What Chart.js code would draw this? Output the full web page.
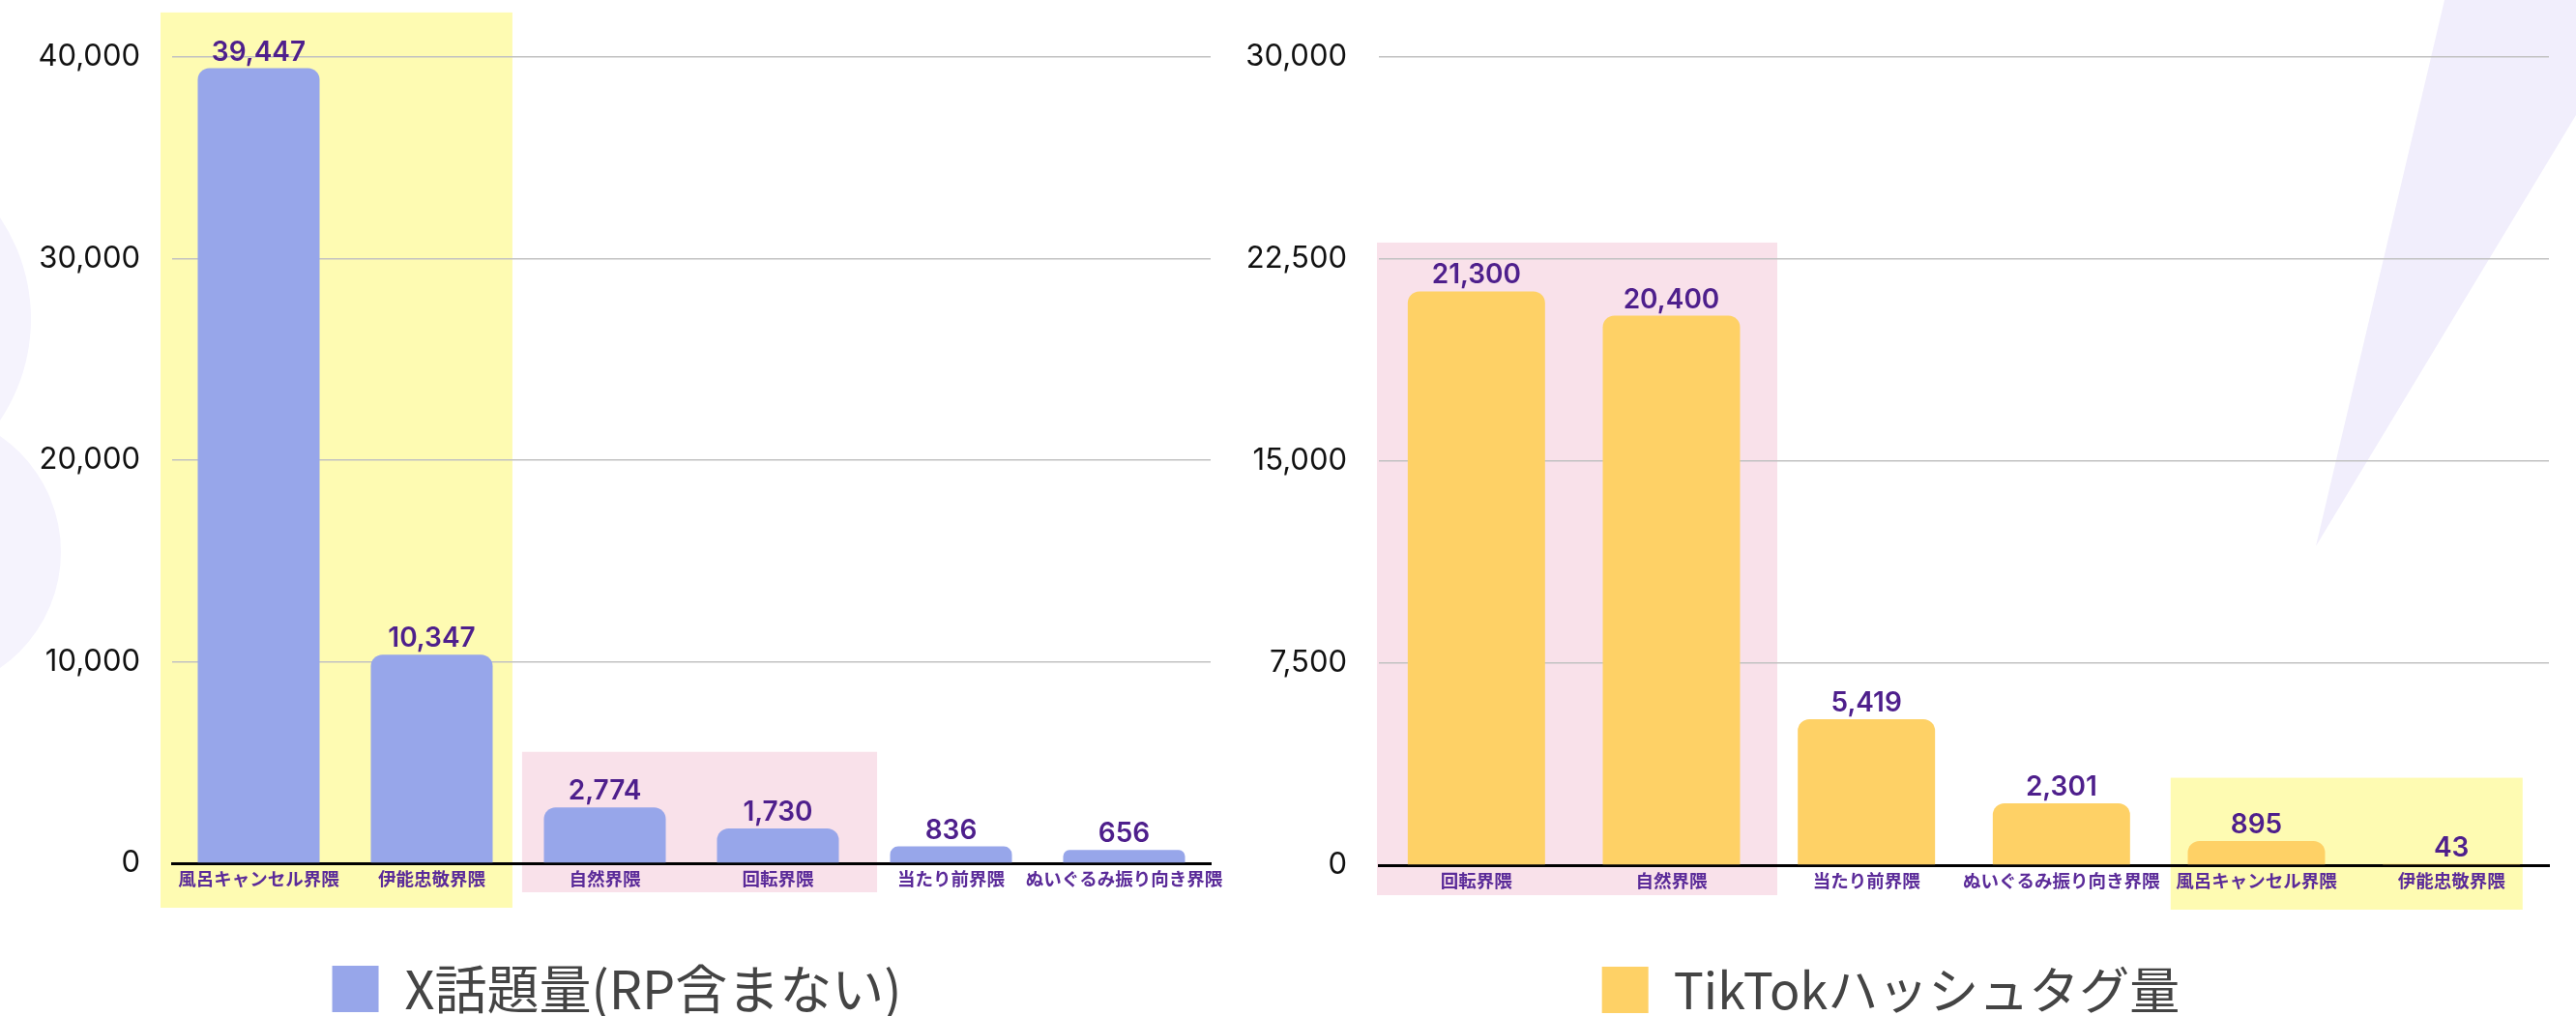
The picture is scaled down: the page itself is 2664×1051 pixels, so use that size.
<!DOCTYPE html>
<html lang="ja">
<head>
<meta charset="utf-8">
<title>界隈 話題量比較</title>
<script src="https://cdn.jsdelivr.net/npm/chart.js@4.4.1/dist/chart.umd.min.js"></script>
<style>
  html, body { margin: 0; padding: 0; background: #fff; }
  #stage { position: relative; width: 2664px; height: 1051px; overflow: hidden; }
  #deco { position: absolute; left: 0; top: 0; }
  #chart-x { position: absolute; left: 0; top: 0; }
  #chart-tt { position: absolute; left: 1247px; top: 0; }
</style>
</head>
<body>
<div id="stage">
  <svg id="deco" width="2664" height="1051">
    <circle cx="-156" cy="330" r="188" fill="#f5f3fd" />
    <circle cx="-83" cy="571" r="146" fill="#f5f3fd" />
    <polygon points="2528,0 2664,0 2664,119 2395,565" fill="#f1eefc" />
  </svg>
  <canvas id="chart-x" width="1272" height="1051"></canvas>
  <canvas id="chart-tt" width="1417" height="1051"></canvas>
</div>
<script>
// ---- data ----
const xLabel       = 'X話題量(RP含まない)';
const xCategories  = ['風呂キャンセル界隈', '伊能忠敬界隈', '自然界隈', '回転界隈', '当たり前界隈', 'ぬいぐるみ振り向き界隈'];
const xValues      = [39447, 10347, 2774, 1730, 836, 656];
const xAxisMax     = 40000;
const xAxisStep    = 10000;

const ttLabel      = 'TikTokハッシュタグ量';
const ttCategories = ['回転界隈', '自然界隈', '当たり前界隈', 'ぬいぐるみ振り向き界隈', '風呂キャンセル界隈', '伊能忠敬界隈'];
const ttValues     = [21300, 20400, 5419, 2301, 895, 43];
const ttAxisMax    = 30000;
const ttAxisStep   = 7500;

// ---- styles ----
const YELLOW_BG = '#fefbb2';
const PINK_BG   = '#f9e1ea';
const PURPLE    = '#4e1f8c';
const CAT_PURPLE = '#5b2b99';

// highlighted groups (category units) drawn behind the bars
const xHighlights = [
  { from: -0.567, to: 1.466, top: 42212, below: 46, color: YELLOW_BG },
  { from: 1.522,  to: 3.573, top: 5529,  below: 30, color: PINK_BG },
];
const ttHighlights = [
  { from: -0.51, to: 1.543, top: 23113, below: 31, color: PINK_BG },
  { from: 3.56,  to: 5.365, top: 3245,  below: 46, color: YELLOW_BG },
];

const highlightPlugin = {
  id: 'highlight',
  beforeDraw(chart, args, opts) {
    const { ctx, scales: { x, y } } = chart;
    ctx.save();
    (opts.boxes || []).forEach(b => {
      const l = x.getPixelForValue(b.from);
      const r = x.getPixelForValue(b.to);
      const t = y.getPixelForValue(b.top);
      const bt = y.getPixelForValue(0) + b.below;
      ctx.fillStyle = b.color;
      ctx.fillRect(l, t, r - l, bt - t);
    });
    ctx.restore();
  }
};

const valueLabelPlugin = {
  id: 'valueLabels',
  afterDatasetsDraw(chart) {
    const { ctx } = chart;
    const meta = chart.getDatasetMeta(0);
    const data = chart.data.datasets[0].data;
    ctx.save();
    ctx.font = '600 28px Inter';
    ctx.fillStyle = PURPLE;
    ctx.textAlign = 'center';
    ctx.textBaseline = 'alphabetic';
    meta.data.forEach((bar, i) => {
      ctx.fillText(data[i].toLocaleString('en-US'), bar.x, bar.y - 8);
    });
    ctx.restore();
  }
};

function makeChart(canvasId, label, categories, values, color, max, step, boxes, pad, legendSize) {
  return new Chart(document.getElementById(canvasId), {
    type: 'bar',
    data: {
      labels: categories,
      datasets: [{
        label,
        data: values,
        backgroundColor: color,
        borderWidth: 0,
        borderRadius: { topLeft: 12, topRight: 12, bottomLeft: 0, bottomRight: 0 },
        borderSkipped: false,
        categoryPercentage: 0.8,
        barPercentage: 0.88,
      }]
    },
    options: {
      responsive: false,
      animation: false,
      devicePixelRatio: 1,
      layout: { padding: { top: 59, right: pad.right, bottom: -9, left: pad.left } },
      plugins: {
        highlight: { boxes },
        tooltip: { enabled: false },
        legend: {
          position: 'bottom',
          labels: {
            boxWidth: 48,
            boxHeight: 48,
            padding: 0,
            color: '#444',
            font: { family: '"Noto Sans CJK JP", "Noto Sans"', size: legendSize },
          }
        }
      },
      scales: {
        x: {
          grid: { display: false, drawTicks: false },
          border: { display: true, color: '#000', width: 3 },
          ticks: {
            color: CAT_PURPLE,
            padding: 5,
            autoSkip: false,
            maxRotation: 0,
            font: { family: '"Noto Sans CJK JP"', size: 18.5, weight: 'bold' },
          },
          afterFit(scale) { scale.height = 103; }
        },
        y: {
          min: 0,
          max,
          grid: { color: '#c2c2c2', lineWidth: 1.5, drawTicks: false },
          border: { display: false },
          ticks: {
            stepSize: step,
            color: '#111',
            padding: 33,
            font: { family: 'Inter', size: 31 },
          },
          afterFit(scale) { scale.width = pad.axis; }
        }
      }
    },
    plugins: [highlightPlugin, valueLabelPlugin]
  });
}

makeChart('chart-x', xLabel, xCategories, xValues, '#97a6ea', xAxisMax, xAxisStep, xHighlights,
  { left: 24, right: 20, axis: 154 }, 54);
makeChart('chart-tt', ttLabel, ttCategories, ttValues, '#fed166', ttAxisMax, ttAxisStep, ttHighlights,
  { left: 28, right: 28, axis: 151 }, 52);
</script>
</body>
</html>
